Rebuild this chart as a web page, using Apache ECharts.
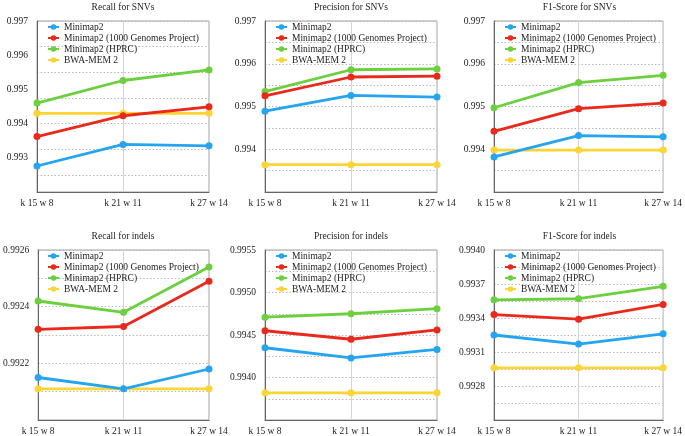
<!DOCTYPE html>
<html>
<head>
<meta charset="utf-8">
<script src="https://cdn.jsdelivr.net/npm/echarts@6/dist/echarts.min.js"></script>
<style>
html,body{margin:0;padding:0;background:#fff;}
#chart{width:685px;height:436px;}
</style>
</head>
<body>
<div id="chart"></div>
<script>
const categories = ['k 15 w 8', 'k 21 w 11', 'k 27 w 14'];
const seriesNames = ['Minimap2', 'Minimap2 (1000 Genomes Project)', 'Minimap2 (HPRC)', 'BWA-MEM 2'];
const panelTitles = ['Recall for SNVs', 'Precision for SNVs', 'F1-Score for SNVs', 'Recall for indels', 'Precision for indels', 'F1-Score for indels'];

const recallSnvMinimap2 = [0.99276, 0.99339, 0.99335];
const recallSnv1000G   = [0.99362, 0.99423, 0.99449];
const recallSnvHprc    = [0.99460, 0.99526, 0.99557];
const recallSnvBwa     = [0.99430, 0.99430, 0.99430];

const precisionSnvMinimap2 = [0.99489, 0.99526, 0.99522];
const precisionSnv1000G   = [0.99525, 0.99569, 0.99571];
const precisionSnvHprc    = [0.99535, 0.99586, 0.99588];
const precisionSnvBwa     = [0.99364, 0.99364, 0.99364];

const f1SnvMinimap2 = [0.99382, 0.99432, 0.99429];
const f1Snv1000G   = [0.99442, 0.99495, 0.99508];
const f1SnvHprc    = [0.99497, 0.99556, 0.99573];
const f1SnvBwa     = [0.99398, 0.99398, 0.99398];

const recallIndelMinimap2 = [0.99215, 0.99211, 0.99218];
const recallIndel1000G   = [0.99232, 0.99233, 0.99249];
const recallIndelHprc    = [0.99242, 0.99238, 0.99254];
const recallIndelBwa     = [0.99211, 0.99211, 0.99211];

const precisionIndelMinimap2 = [0.99435, 0.99423, 0.99433];
const precisionIndel1000G   = [0.99455, 0.99445, 0.99456];
const precisionIndelHprc    = [0.99471, 0.99475, 0.99481];
const precisionIndelBwa     = [0.99382, 0.99382, 0.99382];

const f1IndelMinimap2 = [0.99325, 0.99317, 0.99326];
const f1Indel1000G   = [0.99343, 0.99339, 0.99352];
const f1IndelHprc    = [0.99356, 0.99357, 0.99368];
const f1IndelBwa     = [0.99296, 0.99296, 0.99296];

// axis ranges / label steps / label decimals per panel
const yMins  = [0.992, 0.993, 0.993, 0.9920, 0.9935, 0.9925];
const yMaxs  = [0.997, 0.997, 0.997, 0.9926, 0.9955, 0.9940];
const ySteps = [0.001, 0.001, 0.001, 0.0002, 0.0005, 0.0003];
const yDecimals = [3, 3, 3, 4, 4, 4];
// panel 1 dotted gridlines follow their own spacing
const p1GridMin = 0.9925, p1GridMax = 0.997, p1GridStep = 0.00075;

const panelData = [
  [recallSnvMinimap2, recallSnv1000G, recallSnvHprc, recallSnvBwa],
  [precisionSnvMinimap2, precisionSnv1000G, precisionSnvHprc, precisionSnvBwa],
  [f1SnvMinimap2, f1Snv1000G, f1SnvHprc, f1SnvBwa],
  [recallIndelMinimap2, recallIndel1000G, recallIndelHprc, recallIndelBwa],
  [precisionIndelMinimap2, precisionIndel1000G, precisionIndelHprc, precisionIndelBwa],
  [f1IndelMinimap2, f1Indel1000G, f1IndelHprc, f1IndelBwa]
];

const colors = ['#25a4f0', '#e8291c', '#6ccf3e', '#fcd434'];
const FONT = 'Liberation Serif';
const FS = 9.5;
const TEXT = '#222';

const gridBoxes = [
  {left: 37,  top: 21,  width: 172, height: 171},
  {left: 265, top: 21,  width: 172, height: 171},
  {left: 494, top: 21,  width: 171, height: 171},
  {left: 37,  top: 250, width: 172, height: 171},
  {left: 265, top: 250, width: 172, height: 171},
  {left: 494, top: 250, width: 171, height: 171}
];

const grid = [], xAxis = [], yAxis = [], series = [], title = [], legend = [];
const dotted = {show: true, lineStyle: {color: '#b8b8b8', type: [1.5, 2], width: 1}};

gridBoxes.forEach((g, i) => {
  grid.push(Object.assign({show: true, borderColor: '#a0a0a0', borderWidth: 1, backgroundColor: 'transparent'}, g));
  xAxis.push({
    type: 'category', gridIndex: i, data: categories, boundaryGap: false,
    axisLine: {lineStyle: {color: '#666', width: 1}},
    axisTick: {show: false},
    axisLabel: {color: TEXT, fontFamily: FONT, fontSize: FS, margin: 6, showMinLabel: true, showMaxLabel: true, interval: 0},
    splitLine: {show: true, lineStyle: {color: '#d4d4d4', width: 1}}
  });
  const isP1 = i === 0;
  yAxis.push({
    type: 'value', gridIndex: i, min: yMins[i], max: yMaxs[i], interval: ySteps[i],
    axisLine: {show: true, lineStyle: {color: '#666', width: 1}},
    axisTick: {show: false},
    axisLabel: {color: TEXT, fontFamily: FONT, fontSize: FS, margin: 9, showMinLabel: false,
      formatter: v => v.toFixed(yDecimals[i])},
    splitLine: isP1 ? {show: false} : dotted,
    minorTick: {show: false, splitNumber: 2},
    minorSplitLine: isP1 ? {show: false} : dotted
  });
  const cx = g.left + g.width / 2;
  title.push({
    text: panelTitles[i], left: cx, top: g.top - 19, textAlign: 'center', padding: 0,
    textStyle: {fontFamily: FONT, fontSize: FS, fontWeight: 'normal', color: TEXT}
  });
  legend.push({
    data: seriesNames.slice(), orient: 'vertical', left: g.left + 10, top: g.top + 1,
    padding: 0, itemGap: 1, itemWidth: 11, itemHeight: 7, selectedMode: false,
    textStyle: {fontFamily: FONT, fontSize: FS, color: TEXT, lineHeight: 10}
  });
  for (let s = seriesNames.length - 1; s >= 0; s--) {
    series.push({
      name: seriesNames[s], type: 'line', xAxisIndex: i, yAxisIndex: i,
      data: panelData[i][s], symbol: 'circle', symbolSize: 7,
      itemStyle: {color: colors[s]}, lineStyle: {color: colors[s], width: 2.8},
      emphasis: {disabled: true}, silent: true, z: 3
    });
  }
});

// overlay axis for panel 1 gridlines (same value scale, shorter grid)
const g0 = gridBoxes[0];
const fullRange = yMaxs[0] - yMins[0];
grid.push({left: g0.left, top: g0.top, width: g0.width,
  height: g0.height * (p1GridMax - p1GridMin) / fullRange, show: false});
xAxis.push({type: 'value', gridIndex: 6, show: false, min: 0, max: 1});
yAxis.push({type: 'value', gridIndex: 6, min: p1GridMin, max: p1GridMax, interval: p1GridStep,
  axisLine: {show: false}, axisTick: {show: false}, axisLabel: {show: false},
  splitLine: dotted});

const chart = echarts.init(document.getElementById('chart'), null, {renderer: 'canvas'});
chart.setOption({animation: false, backgroundColor: '#fff', title, legend, grid, xAxis, yAxis, series});
</script>
</body>
</html>
